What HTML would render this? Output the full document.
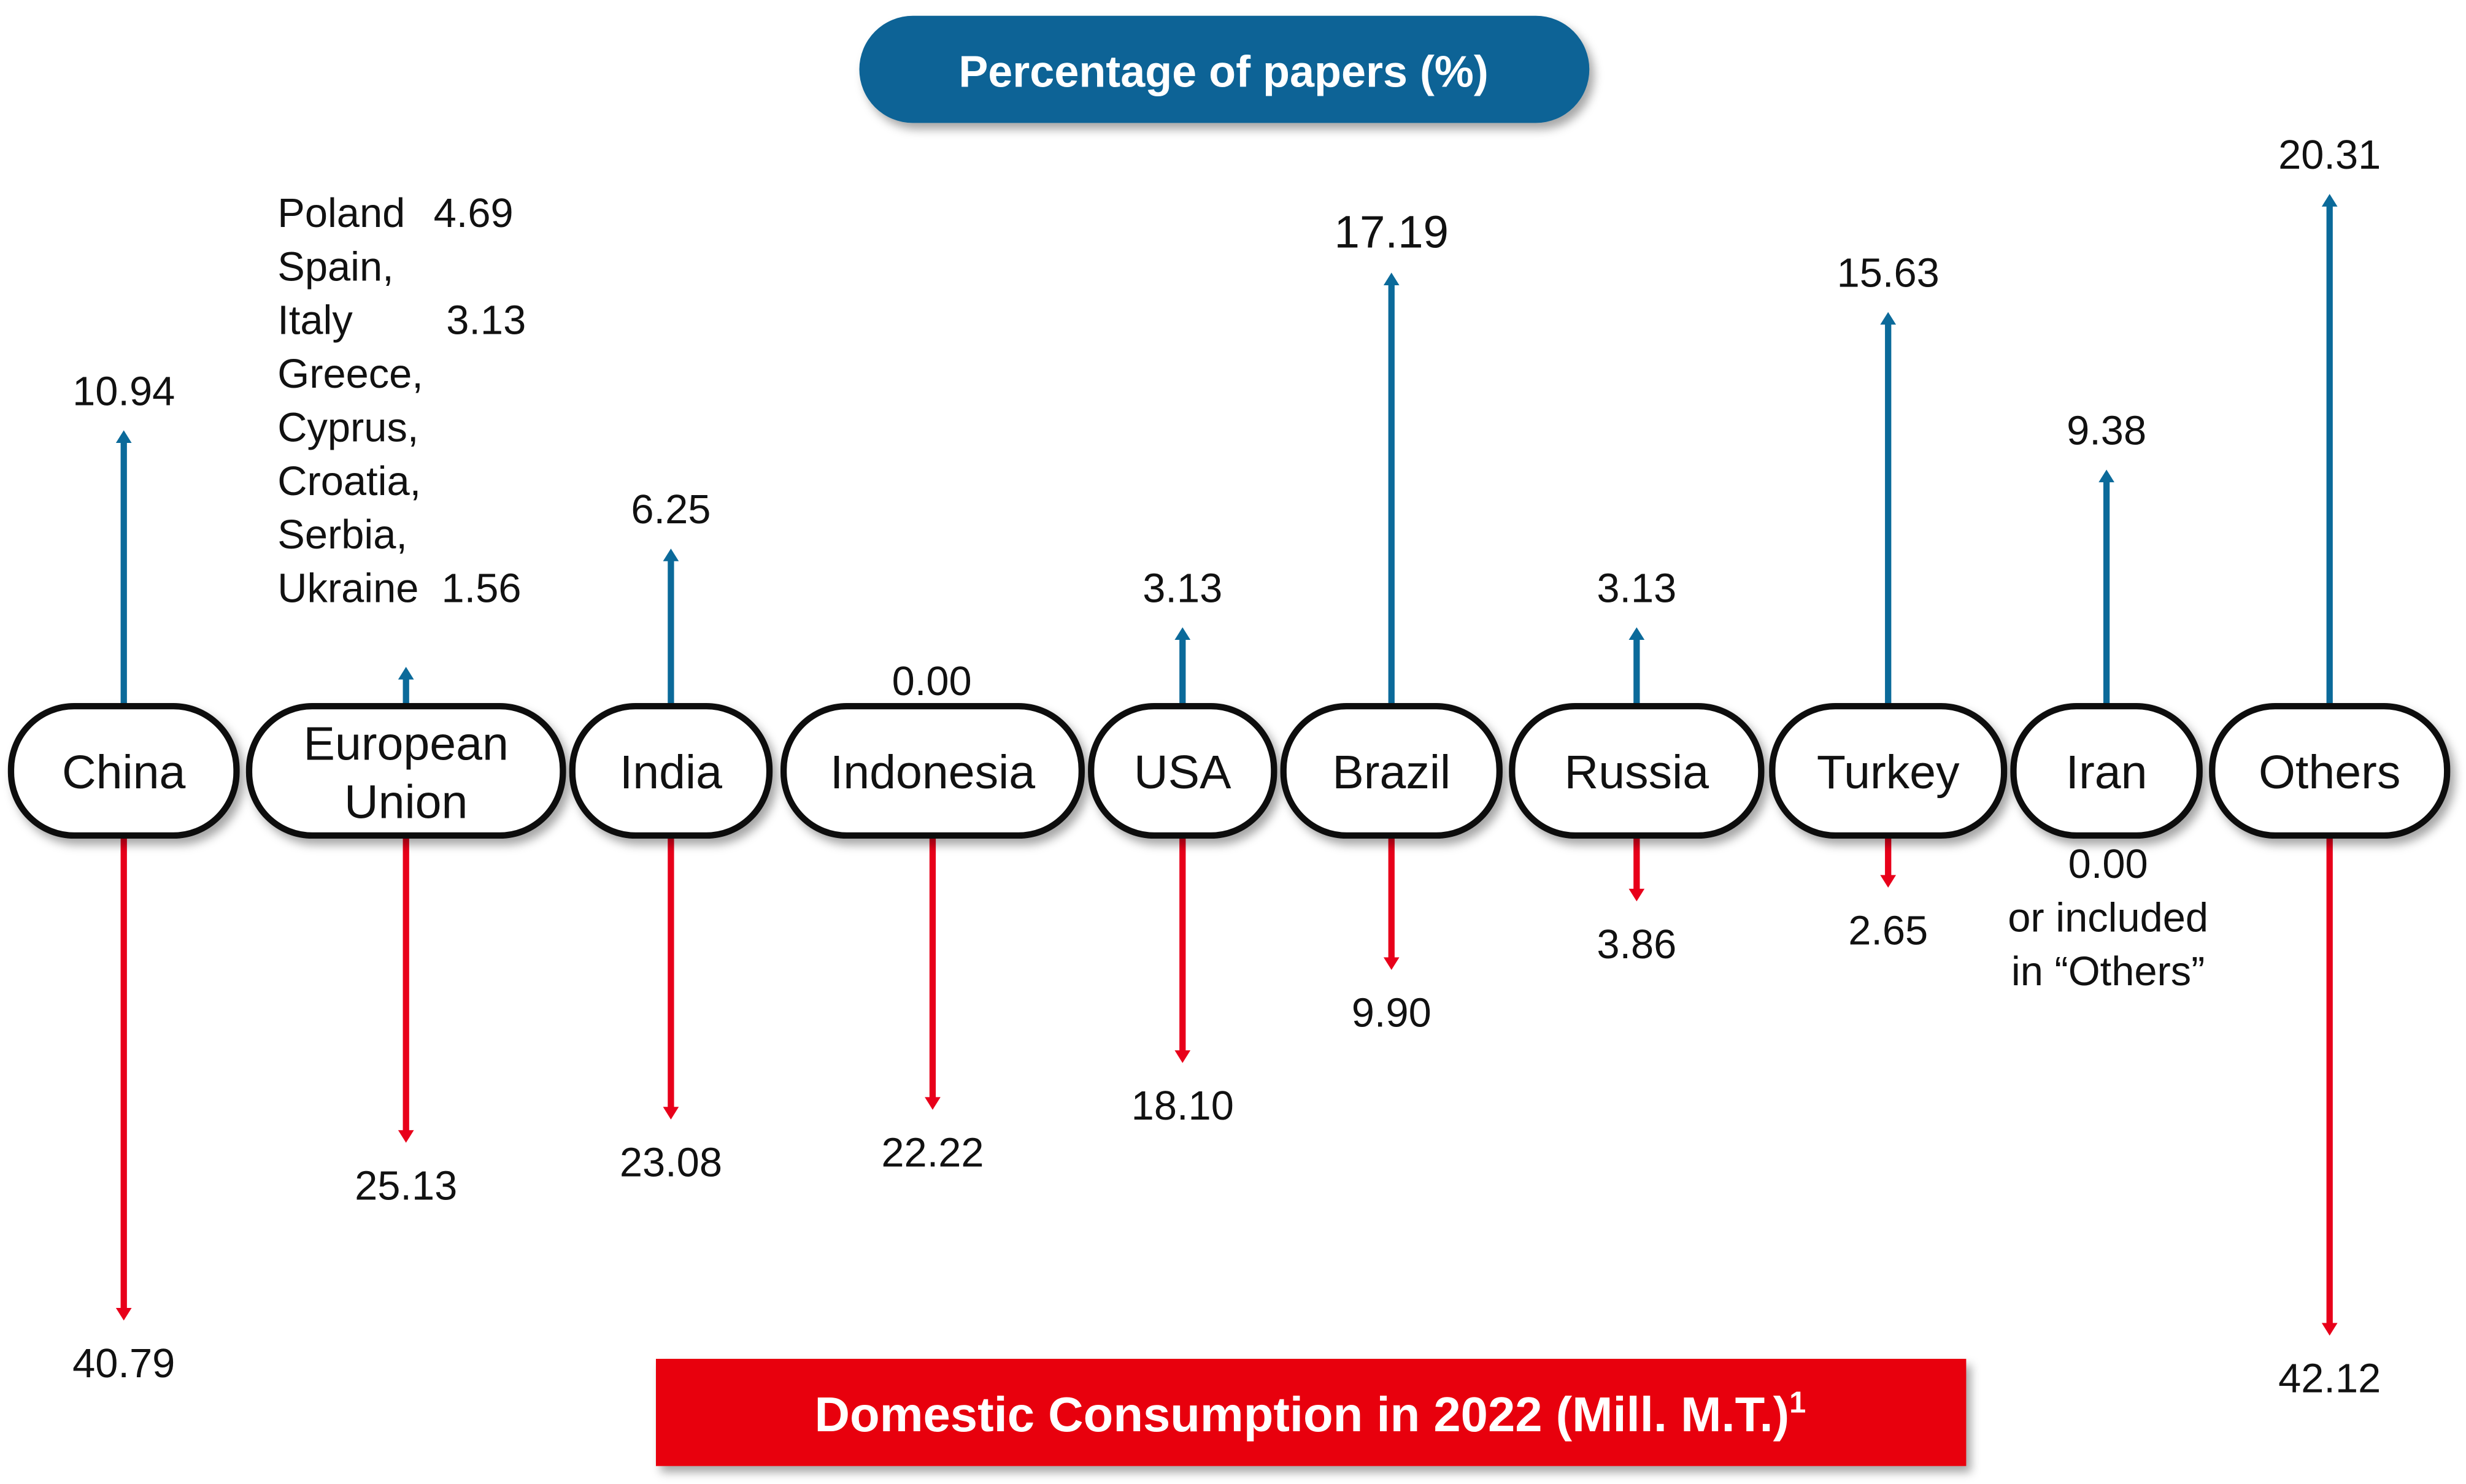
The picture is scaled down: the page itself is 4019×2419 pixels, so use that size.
<!DOCTYPE html>
<html><head><meta charset="utf-8"><style>
html,body{margin:0;padding:0;background:#fff;}
svg{display:block;font-family:"Liberation Sans",Arial,sans-serif;}
</style></head><body>
<svg id="chart" width="4019" height="2419" viewBox="0 0 1564 941.4" preserveAspectRatio="none" xmlns="http://www.w3.org/2000/svg">
<defs>
<filter id="sh" x="-10%" y="-10%" width="130%" height="140%"><feDropShadow dx="3" dy="4" stdDeviation="3" flood-color="#000" flood-opacity="0.35"/></filter>
</defs>
<g>
<rect x="545" y="10" width="463" height="68" rx="34" fill="#0b6496" filter="url(#sh)"/>
<text x="776" y="55" text-anchor="middle" fill="#fff" font-weight="bold" font-size="28">Percentage of papers (%)</text>
</g>
<g>
<rect x="416" y="862" width="831" height="68" fill="#e8000b" filter="url(#sh)"/>
<text x="831" y="908" text-anchor="middle" fill="#fff" font-weight="bold" font-size="31">Domestic Consumption in 2022 (Mill. M.T.)<tspan font-size="19" dy="-12">1</tspan></text>
</g>
<g id="marks"></g>
<g font-size="26" fill="#111">
<text x="176" y="144">Poland</text><text x="275" y="144">4.69</text>
<text x="176" y="178">Spain,</text>
<text x="176" y="212">Italy</text><text x="283" y="212">3.13</text>
<text x="176" y="246">Greece,</text>
<text x="176" y="280">Cyprus,</text>
<text x="176" y="314">Croatia,</text>
<text x="176" y="348">Serbia,</text>
<text x="176" y="382">Ukraine</text><text x="280" y="382">1.56</text>
</g>
<g font-size="26" fill="#111" text-anchor="middle">
<text x="1337" y="557">0.00</text>
<text x="1337" y="591">or included</text>
<text x="1337" y="625">in “Others”</text>
</g>
<text x="591" y="441" font-size="26" text-anchor="middle" fill="#111">0.00</text>
</svg>
<script>
const countries = ["China","European Union","India","Indonesia","USA","Brazil","Russia","Turkey","Iran","Others"];
const papers = [10.94, 1.56, 6.25, 0.00, 3.13, 17.19, 3.13, 15.63, 9.38, 20.31];
const consumption = [40.79, 25.13, 23.08, 22.22, 18.10, 9.90, 3.86, 2.65, 0, 42.12];
const paperLabels = ["10.94","","6.25","","3.13","17.19","3.13","15.63","9.38","20.31"];
const consLabels = ["40.79","25.13","23.08","22.22","18.10","9.90","3.86","2.65","","42.12"];

const pillX = [7,158,363,497,692,814,959,1124,1277,1403];
const pillW = [143,199,125,189,116,137,158,147,118,149];
const pillTop = 448, pillBot = 530;
const ns = "http://www.w3.org/2000/svg";
const g = document.getElementById('marks');
function up(v){ return pillTop - 16*v; }
function down(v){ return pillBot + 14 + 7.2*v; }
function mk(tag, attrs){ const e=document.createElementNS(ns,tag); for(const k in attrs) e.setAttribute(k,attrs[k]); g.appendChild(e); return e; }

countries.forEach((c,i)=>{
  const cx = pillX[i] + pillW[i]/2;
  if (papers[i] > 0) {
    const ty = up(papers[i]);
    const l = mk('line',{x1:cx,y1:pillTop,x2:cx,y2:ty+6,stroke:'#0b6a9a','stroke-width':4});
    
    
    const h = mk('polygon',{points:`${cx-5},${ty+8} ${cx+5},${ty+8} ${cx},${ty}`,fill:'#0b6a9a'});
    
    
    if (paperLabels[i]) {
      const t = mk('text',{x:cx,y:ty-16,'text-anchor':'middle','font-size':(i==5?29:26),fill:'#111'});
      t.textContent = paperLabels[i];
      
      
    }
  }
  if (consumption[i] > 0) {
    const by = down(consumption[i]);
    const l = mk('line',{x1:cx,y1:pillBot,x2:cx,y2:by-6,stroke:'#e8001a','stroke-width':4});
    
    
    const h = mk('polygon',{points:`${cx-5},${by-8} ${cx+5},${by-8} ${cx},${by}`,fill:'#e8001a'});
    
    
    const t = mk('text',{x:cx,y:by+36,'text-anchor':'middle','font-size':26,fill:'#111'});
    t.textContent = consLabels[i];
    
    
  }
  const r = mk('rect',{x:pillX[i],y:pillTop,width:pillW[i],height:pillBot-pillTop,rx:40,ry:40,fill:'#fff',stroke:'#111','stroke-width':4,filter:'url(#sh)'});
  
  
  const t = mk('text',{x:cx,y:0,'text-anchor':'middle','font-size':30,fill:'#111'});
  
  
  if (c === "European Union") {
    const a = document.createElementNS(ns,'tspan'); a.setAttribute('x',cx); a.setAttribute('y',482); a.textContent='European'; t.appendChild(a);
    const b = document.createElementNS(ns,'tspan'); b.setAttribute('x',cx); b.setAttribute('y',519); b.textContent='Union'; t.appendChild(b);
  } else {
    t.setAttribute('y', 500);
    t.textContent = c;
  }
});
</script>
</body></html>
